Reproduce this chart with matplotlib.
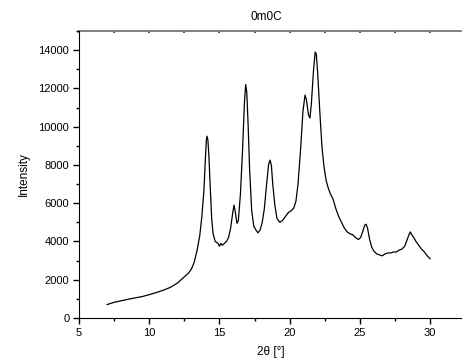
import numpy as np
import matplotlib.pyplot as plt
from matplotlib.ticker import MultipleLocator

plt.rcParams['font.family'] = ['Liberation Sans', 'DejaVu Sans']

# XRD pattern
two_theta = [7.0, 7.5, 8.0, 8.5, 9.0, 9.5, 10.0, 10.5, 11.0, 11.5, 12.0, 12.5, 12.8, 13.0, 13.2,
             13.4, 13.6, 13.75, 13.9, 14.0, 14.07, 14.12, 14.18, 14.25, 14.35, 14.45, 14.55, 14.7,
             14.9, 15.0, 15.1, 15.2, 15.35, 15.5, 15.65, 15.8, 15.95, 16.04, 16.12, 16.25, 16.35,
             16.5, 16.65, 16.78, 16.87, 16.95, 17.05, 17.15, 17.3, 17.45, 17.6, 17.75, 17.9, 18.05,
             18.2, 18.35, 18.5, 18.6, 18.7, 18.8, 18.95, 19.1, 19.3, 19.5, 19.7, 19.9, 20.1, 20.3,
             20.45, 20.6, 20.8, 20.95, 21.1, 21.2, 21.35, 21.45, 21.55, 21.7, 21.82, 21.9, 22.0,
             22.15, 22.3, 22.45, 22.6, 22.75, 22.9, 23.1, 23.3, 23.5, 23.7, 23.9, 24.1, 24.3, 24.5,
             24.7, 24.9, 25.05, 25.2, 25.35, 25.45, 25.55, 25.7, 25.85, 26.0, 26.2, 26.4, 26.6,
             26.8, 27.0, 27.2, 27.4, 27.6, 27.8, 28.0, 28.2, 28.35, 28.5, 28.6, 28.7, 28.85, 29.0,
             29.2, 29.4, 29.6, 29.8, 30.0]
intensity = [700, 820, 900, 980, 1050, 1120, 1220, 1330, 1450, 1600, 1820, 2150, 2350, 2550, 2900,
             3500, 4300, 5300, 6700, 8300, 9300, 9500, 9300, 8500, 6800, 5200, 4400, 4000,
             3900, 3750, 3900, 3800, 3900, 4000, 4200, 4700, 5500, 5900, 5600, 4950, 5100,
             6500, 8800, 11200, 12200, 11800, 10000, 7800, 5600, 4800, 4600, 4450, 4600, 5000,
             5700, 6900, 8000, 8250, 8000, 7000, 5900, 5200, 5000, 5100, 5300, 5500, 5600, 5750,
             6100, 7000, 9000, 10800, 11650, 11400, 10600, 10450, 11200, 12900, 13900, 13800, 12800,
             10800, 9000, 7900, 7200, 6800, 6500, 6200, 5700, 5300, 5000, 4700, 4500, 4400, 4350,
             4200, 4100, 4200, 4500, 4850, 4900, 4700, 4100, 3700, 3500, 3350, 3300, 3250,
             3350, 3400, 3400, 3450, 3450, 3550, 3600, 3750, 4050, 4350, 4500, 4350, 4200, 4000,
             3800, 3600, 3450, 3250, 3100]

fig = plt.figure(figsize=(4.62, 3.63), dpi=100)
ax = fig.add_axes([79 / 462, 45 / 363, 383 / 462, 287 / 363])

ax.plot(two_theta, intensity, color='black', linewidth=0.9)

ax.set_xlim(5, 5 + 383 / 14.04)
ax.set_ylim(0, 15000)
ax.xaxis.set_major_locator(MultipleLocator(5))
ax.xaxis.set_minor_locator(MultipleLocator(2.5))
ax.yaxis.set_major_locator(MultipleLocator(2000))
ax.yaxis.set_minor_locator(MultipleLocator(1000))

ax.tick_params(which='major', direction='out', length=4, width=1, labelsize=8, pad=3)
ax.tick_params(which='minor', direction='out', length=2.5, width=1)

ax.spines['right'].set_visible(False)
ax.spines['top'].set_visible(False)

# top axis: grey line with small inward ticks, no labels
top = ax.secondary_xaxis('top')
top.xaxis.set_major_locator(MultipleLocator(2.5))
top.tick_params(direction='in', length=1.5, width=1.2, color='#333333', labeltop=False)
top.spines['top'].set_color('#777777')
top.spines['top'].set_linewidth(1.3)

ax.set_xlabel('2θ [°]', fontsize=8.5, labelpad=6)
ax.set_ylabel('Intensity', fontsize=8.5, labelpad=6)
fig.text(266 / 462, 1 - 17 / 363, '0m0C', fontsize=8.5, ha='center', va='center')

fig.savefig('out.png', dpi=100)
